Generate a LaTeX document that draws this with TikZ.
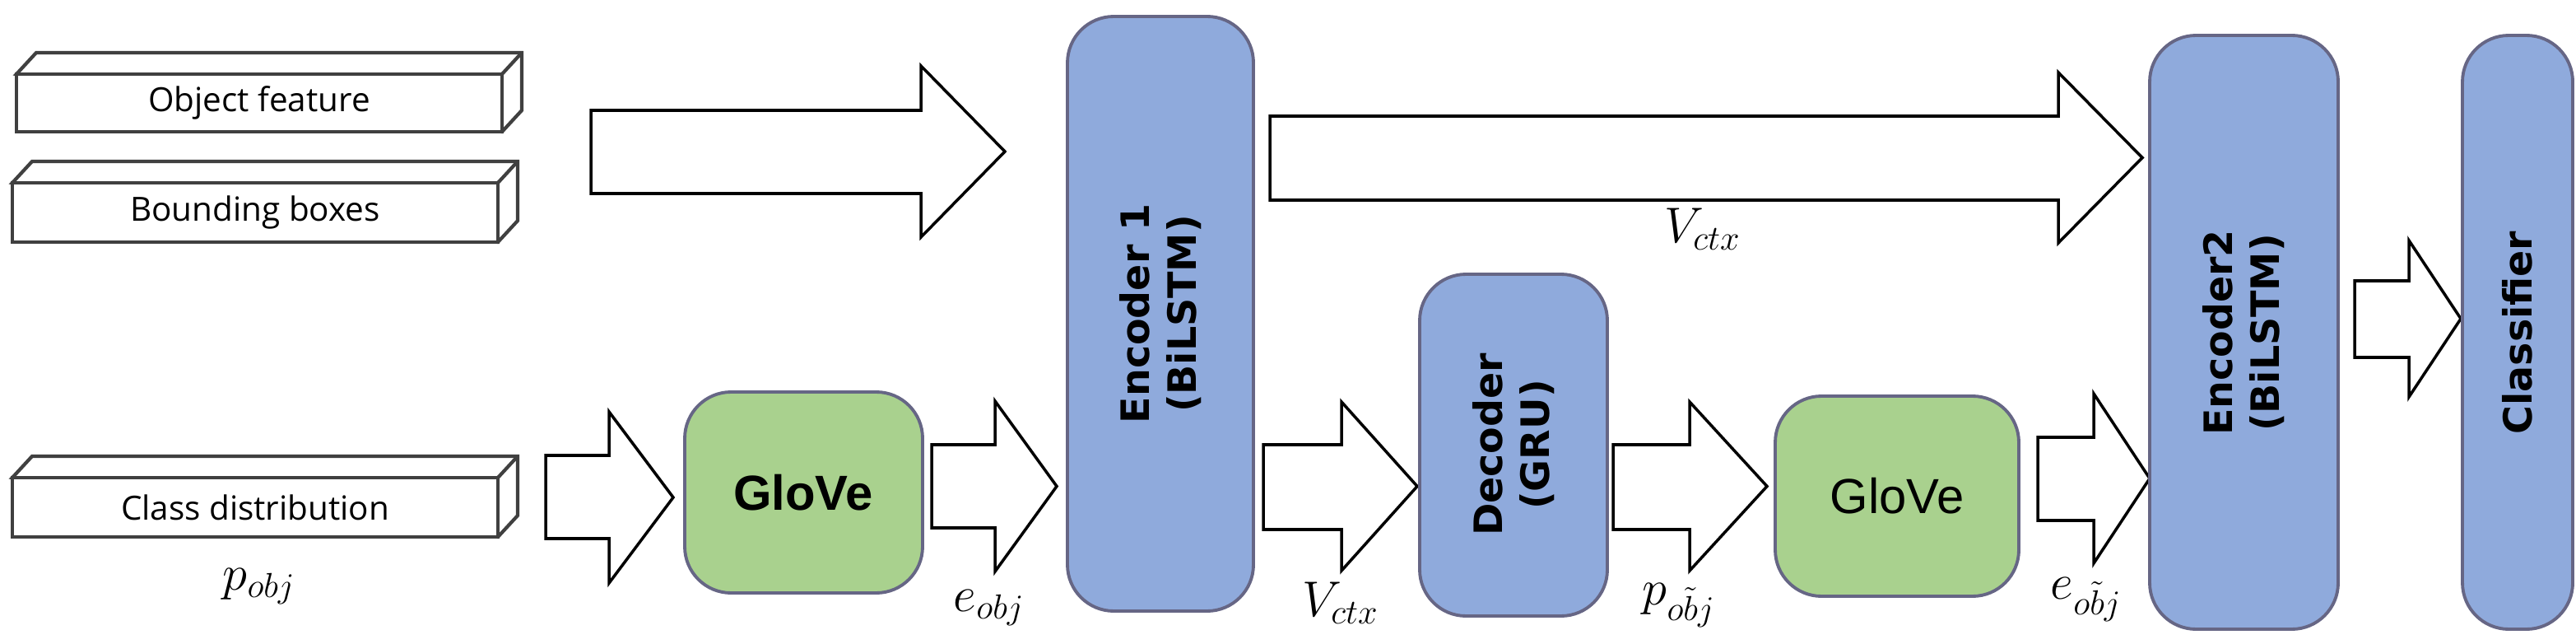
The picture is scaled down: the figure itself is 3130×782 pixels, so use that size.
\documentclass[tikz,border=0pt]{standalone}
\usepackage{fontspec}
\setmainfont{Open Sans}
\newfontfamily\boldsans{DejaVu Sans}
\newfontfamily\glovefont{Liberation Sans}
\begin{document}
\begin{tikzpicture}[x=0.01cm,y=-0.01cm,
  box/.style={draw=black!75, line width=1.2pt, fill=white},
  barrow/.style={draw=black, line width=1pt, fill=white},
  blue/.style={draw=black!80!blue!60, line width=1.1pt, fill={rgb,255:red,143;green,170;blue,220}, rounded corners=16pt},
  green/.style={draw=black!80!blue!60, line width=1.1pt, fill={rgb,255:red,169;green,209;blue,142}, rounded corners=16pt},
  lbl/.style={font=\fontsize{11.5}{13}\selectfont},
  vtxt/.style={rotate=90, align=center, font=\boldsans\bfseries\fontsize{13.5}{16}\selectfont},
  mlab/.style={font=\fontsize{18}{21}\selectfont}]
\useasboundingbox (0,0) rectangle (3130,782);
% 3D boxes
\newcommand{\flatbox}[6]{% name, x0,y0,x1,y1,text
  \draw[box] (#2,#3) -- (#2+24,#3-26) -- (#4+24,#3-26) -- (#4+24,#5-26) -- (#4,#5) -- cycle;
  \draw[box] (#4,#3) -- (#4+24,#3-26);
  \draw[box] (#2,#3) rectangle (#4,#5);
  \node[lbl] (#1) at ({(#2+#4)/2},{(#3+#5)/2}) {#6};}
\flatbox{of}{20}{90}{610}{160}{Object feature}
\flatbox{bb}{15}{222}{605}{294}{Bounding boxes}
\flatbox{cd}{15}{580}{605}{652}{Class distribution}
% block arrows: x0, x1(head start), x2(tip), y shaft top, y shaft bottom, head top, head bottom
\newcommand{\barr}[7]{\draw[barrow] (#1,#4) -- (#2,#4) -- (#2,#6) -- (#3,{(#6+#7)/2}) -- (#2,#7) -- (#2,#5) -- (#1,#5) -- cycle;}
\barr{718}{1119}{1221}{134}{235}{80}{288}
\barr{663}{740}{818}{553}{654}{500}{708}
\barr{1132}{1209}{1284}{540}{641}{487}{694}
\barr{1543}{2501}{2603}{141}{243}{88}{295}
\barr{1535}{1630}{1722}{540}{643}{488}{693}
\barr{1960}{2053}{2147}{540}{643}{488}{693}
\barr{2476}{2544}{2612}{531}{632}{478}{684}
\barr{2861}{2927}{2990}{341}{434}{292}{482}
% blocks
\draw[green] (832,476) rectangle (1121,720);
\node[font=\glovefont\bfseries\fontsize{17}{20}\selectfont] (g1) at (976,598) {GloVe};
\draw[green] (2157,481) rectangle (2453,724);
\node[font=\glovefont\fontsize{17}{20}\selectfont] (g2) at (2305,602) {GloVe};
\draw[blue] (1297,20) rectangle (1523,742);
\node[vtxt] (e1) at (1410,381) {Encoder 1\\(BiLSTM)};
\draw[blue] (1725,333) rectangle (1953,748);
\node[vtxt] (dec) at (1839,540) {Decoder\\(GRU)};
\draw[blue] (2612,43) rectangle (2841,764);
\node[vtxt] (e2) at (2726,404) {Encoder2\\(BiLSTM)};
\draw[blue] (2992,43) rectangle (3126,764);
\node[vtxt] (cl) at (3059,404) {Classifier};
% labels
\node[mlab] at (315,712) {$p_{obj}$};
\node[mlab] at (1202,738) {$e_{obj}$};
\node[mlab] at (2069,278) {$V_{ctx}$};
\node[mlab] at (1629,732) {$V_{ctx}$};
\node[mlab] at (2040,735) {$p_{\tilde{obj}}$};
\node[mlab] at (2535,728) {$e_{\tilde{obj}}$};
\end{tikzpicture}
\end{document}
